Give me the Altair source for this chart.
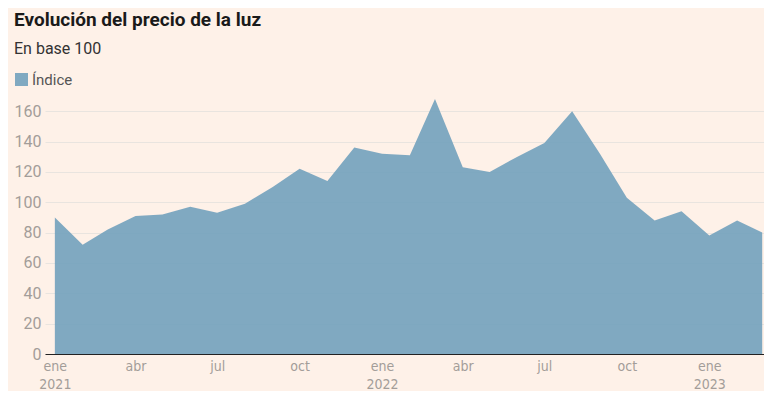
import altair as alt
import pandas as pd

dates = pd.date_range("2021-01-01", "2023-03-01", freq="MS").strftime("%Y-%m-%d").tolist()
values = [90, 72, 82, 91, 92, 97, 93, 99, 110, 122, 114, 136,
          132, 131, 168, 123, 120, 130, 139, 160, 132, 103, 88, 94,
          78, 88, 80]
series = ["Índice"] * len(values)

df = pd.DataFrame({"fecha": dates, "valor": values, "serie": series})

tick_dates = [alt.DateTime(year=y, month=m, date=1, utc=True)
              for y, m in [(2021, 1), (2021, 4), (2021, 7), (2021, 10),
                           (2022, 1), (2022, 4), (2022, 7), (2022, 10), (2023, 1)]]

month_expr = "['ene','feb','mar','abr','may','jun','jul','ago','sep','oct','nov','dic'][utcmonth(datum.value)]"
label_expr = (f"utcmonth(datum.value) == 0 ? [{month_expr}, toString(utcyear(datum.value))] : {month_expr}")

chart = alt.Chart(df).mark_area(opacity=0.9).encode(
    x=alt.X("fecha:T",
            scale=alt.Scale(type="utc",
                            domain=[alt.DateTime(year=2020, month=12, date=21, utc=True),
                                    alt.DateTime(year=2023, month=3, date=3, utc=True)]),
            axis=alt.Axis(title=None, values=tick_dates, labelExpr=label_expr,
                          grid=False, ticks=False, domain=True, domainColor="#222222",
                          domainWidth=1.2, labelColor="#a39d99", labelFont="DejaVu Sans Condensed",
                          labelFontSize=14, labelLineHeight=18, labelPadding=5, labelAlign="center")),
    y=alt.Y("valor:Q",
            scale=alt.Scale(domain=[0, 170], nice=False),
            axis=alt.Axis(title=None, values=[0, 20, 40, 60, 80, 100, 120, 140, 160],
                          domain=False, ticks=False, gridColor="#e9e4df", gridWidth=1,
                          labelColor="#a39d99", labelFont="Roboto", labelFontSize=16,
                          labelPadding=4)),
    color=alt.Color("serie:N",
                    scale=alt.Scale(range=["#72a1bc"]),
                    legend=alt.Legend(title=None, orient="none", legendX=-31, legendY=-24,
                                      symbolType="square", symbolSize=170, symbolStrokeWidth=0,
                                      symbolOpacity=0.9, labelFont="Roboto", labelFontSize=15,
                                      labelColor="#555555", labelOffset=3)),
).properties(
    width=719,
    height=258,
    background="#fef1e8",
    padding={"left": 6, "right": 0, "top": 3, "bottom": 0},
    title=alt.TitleParams(
        text="Evolución del precio de la luz",
        subtitle="En base 100",
        anchor="start",
        frame="bounds",
        font="Roboto",
        fontSize=19,
        fontWeight="bold",
        color="#1a1a1a",
        subtitleFont="Roboto",
        subtitleFontSize=16,
        subtitleColor="#333333",
        subtitlePadding=11,
        offset=15,
    ),
).configure_view(stroke=None)

chart.save("out.html", embed_options={"renderer": "svg", "actions": False})
